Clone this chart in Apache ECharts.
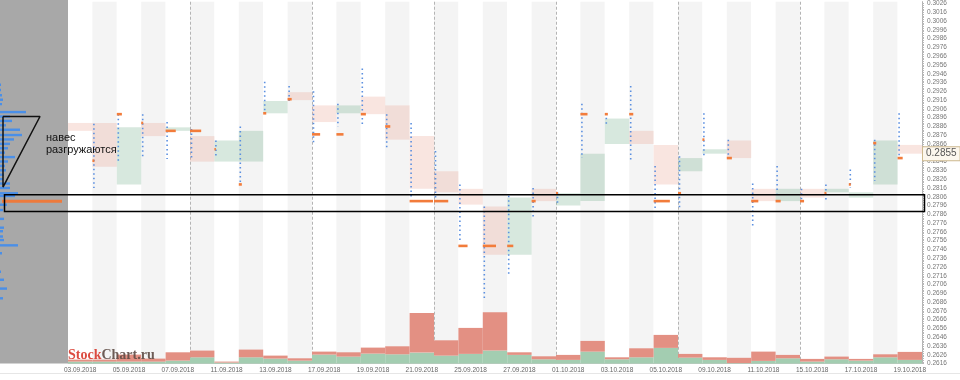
<!DOCTYPE html>
<html><head><meta charset="utf-8">
<script src="https://cdn.jsdelivr.net/npm/echarts@6/dist/echarts.min.js"></script>
<style>html,body{margin:0;padding:0;background:#fff}#c{width:960px;height:380px}</style>
</head><body><div id="c"></div>
<script>
// ---- data ----
const days = ['03.09.2018','04.09.2018','05.09.2018','06.09.2018','07.09.2018','10.09.2018','11.09.2018','12.09.2018','13.09.2018','14.09.2018','17.09.2018','18.09.2018','19.09.2018','20.09.2018','21.09.2018','24.09.2018','25.09.2018','26.09.2018','27.09.2018','28.09.2018','01.10.2018','02.10.2018','03.10.2018','04.10.2018','05.10.2018','08.10.2018','09.10.2018','10.10.2018','11.10.2018','12.10.2018','15.10.2018','16.10.2018','17.10.2018','18.10.2018','19.10.2018'];
const opens  = [0.2890,0.2890,0.2820,0.2890,0.2881,0.2875,0.2846,0.2846,0.2901,0.2925,0.2910,0.2901,0.2920,0.2910,0.2875,0.2835,0.2815,0.2795,0.2740,0.2815,0.2796,0.2801,0.2866,0.2881,0.2865,0.2835,0.2855,0.2870,0.2815,0.2801,0.2815,0.2811,0.2805,0.2820,0.2865];
const closes = [0.2881,0.2840,0.2885,0.2875,0.2885,0.2846,0.2870,0.2881,0.2915,0.2916,0.2891,0.2910,0.2900,0.2871,0.2815,0.2811,0.2797,0.2740,0.2805,0.2801,0.2810,0.2855,0.2895,0.2866,0.2820,0.2850,0.2860,0.2850,0.2801,0.2815,0.2805,0.2815,0.2811,0.2870,0.2855];
const highs  = [null,0.2889,0.2900,0.2900,0.2891,0.2883,0.2870,0.2886,0.2937,0.2932,0.2926,0.2912,0.2952,0.2900,0.2890,0.2858,0.2820,0.2795,0.2807,0.2816,0.2811,0.2912,0.2901,0.2932,0.2841,0.2852,0.2901,0.2871,0.2821,0.2841,0.2815,0.2820,0.2837,0.2871,0.2901];
const lows   = [null,0.2816,0.2847,0.2850,0.2849,0.2849,0.2850,0.2820,0.2901,0.2915,0.2866,0.2886,0.2886,0.2860,0.2806,0.2805,0.2756,0.2690,0.2718,0.2781,0.2798,0.2850,0.2886,0.2847,0.2789,0.2794,0.2850,0.2850,0.2770,0.2810,0.2801,0.2801,0.2816,0.2824,0.2850];
const pocs   = [null,0.2847,0.2900,0.2890,0.2881,0.2881,0.2860,0.2820,0.2901,0.2917,0.2877,0.2877,0.2900,0.2886,0.2801,0.2801,0.2750,0.2750,0.2750,0.2801,0.2810,0.2900,0.2900,0.2900,0.2801,0.2810,0.2871,0.2850,0.2801,0.2801,0.2801,0.2810,0.2820,0.2867,0.2850];
const pocVols = [0,2,5,2,10,11,1,3,3,4,8,7,5,5,23,14,9,13,6,4,2,7,3,4,16,3,2,5,7,5,4,2,2,3,5];
const volGreen = [2,2,2,2,3,6.3,1,6.3,5,3,9,7,10,9.3,11,8,9.7,13,8.7,4.3,3.7,12,4.3,6.3,15.7,6,3.7,0.5,2.7,5.3,2,4.3,3,6.3,3.7];
const volRed   = [2,2,7,3,8.3,6.7,1,7.7,3,2.3,3,4.3,6,8,39.7,15.3,26,38.3,2.6,3,5,10.7,2,9,13,3.7,2.6,5.3,9.3,3.4,2.7,2.7,1.7,3,8];
const profPrices = [0.2932,0.2926,0.2920,0.2915,0.2910,0.2901,0.2896,0.2891,0.2886,0.2881,0.2875,0.2870,0.2865,0.2860,0.2855,0.2850,0.2845,0.2840,0.2835,0.2830,0.2825,0.2820,0.2815,0.2809,0.2806,0.2796,0.2790,0.2780,0.2770,0.2766,0.2760,0.2756,0.2750,0.2741,0.2720,0.2711,0.2701,0.2690];
const profVols   = [1,1,2,3,2,26,10,12,6,20,22,14,10,8,5,15,8,5,6,4,3,10,10,18,15,7,3,4,4,3,3,4,18,2,1,4,7,3];
const profPocPrice = 0.2800, profPocVol = 62;
const priceMin = 0.2616, priceMax = 0.3028, priceTick = 0.0002, priceLabelStep = 0.001;
const lastPrice = 0.2855;
const zoneTop = 0.2811, zoneBottom = 0.2792;
const trianglePts = [[3,0.2896],[40,0.2896],[3,0.2816],[3,0.2896]];
const noteLines = ['навес','разгружаются'];

// ---- chart ----
const chart = echarts.init(document.getElementById('c'), null, {renderer:'canvas'});
const FONT = 'Liberation Sans';

const boxData = days.map((d,i)=>[i, opens[i], closes[i]]);
const dotData = []; const pocData = [];
days.forEach((d,i)=>{ if(highs[i]!=null){ dotData.push([i, highs[i], lows[i]]); pocData.push([i, pocs[i], pocVols[i]]); } });

function isLabelTick(v){
  const k = (v - priceMin) / priceLabelStep;
  return Math.abs(k - Math.round(k)) < 1e-4;
}

const option = {
  animation:false,
  backgroundColor:'#ffffff',
  grid:[
    {left:68, right:38, top:0, bottom:16.4},
    {left:68, right:38, top:298, bottom:16.4},
    {left:0, width:68, top:0, bottom:16.4, show:true, backgroundColor:'#a8a8a8', borderWidth:0}
  ],
  xAxis:[
    {gridIndex:0, type:'category', data:days, boundaryGap:true,
     axisLine:{lineStyle:{color:'#c8c8c8'}}, axisTick:{show:false},
     axisLabel:{interval:1, fontSize:6.5, color:'#666', margin:3, fontFamily:FONT},
     splitArea:{show:true, interval:0, areaStyle:{color:['#ffffff','#f4f4f4']}},
     splitLine:{show:true, interval:(i)=> i>0 && i%5===0, lineStyle:{color:'#b4b4b4', type:[3,2], width:1}}},
    {gridIndex:1, type:'category', data:days, show:false},
    {gridIndex:2, type:'value', min:0, max:68, show:false}
  ],
  yAxis:[
    {gridIndex:0, type:'value', position:'right', min:priceMin, max:priceMax, interval:priceTick,
     axisLine:{show:true, lineStyle:{color:'#b0b0b0'}},
     axisTick:{show:true, length:2, lineStyle:{color:'#b8b8b8'}},
     axisLabel:{fontSize:6.5, color:'#777', margin:5, fontFamily:FONT, showMaxLabel:false,
                formatter:v=> isLabelTick(v) ? v.toFixed(4) : ''},
     splitLine:{show:false}},
    {gridIndex:1, type:'value', min:0, max:65.6, show:false},
    {gridIndex:2, type:'value', min:priceMin, max:priceMax, show:false}
  ],
  series:[
    {type:'custom', name:'boxes', xAxisIndex:0, yAxisIndex:0, data:boxData, encode:{x:0, y:[1,2]}, silent:true, z:2,
     renderItem:(params, api)=>{
       const i = api.value(0), o = api.value(1), c = api.value(2);
       const p1 = api.coord([i,o]), p2 = api.coord([i,c]);
       const w = api.size([1,0])[0];
       const up = c >= o;
       return {type:'rect', shape:{x:p1[0]-w/2, y:Math.min(p1[1],p2[1]), width:w, height:Math.abs(p1[1]-p2[1])},
               style:{fill: up ? 'rgba(135,185,155,0.33)' : 'rgba(235,160,145,0.28)'}};
     }},
    {type:'bar', name:'volBuy', xAxisIndex:1, yAxisIndex:1, stack:'v', data:volGreen, barCategoryGap:0, barGap:0,
     itemStyle:{color:'#a3cdb1'}, silent:true, z:3},
    {type:'bar', name:'volSell', xAxisIndex:1, yAxisIndex:1, stack:'v', data:volRed, barCategoryGap:0, barGap:0,
     itemStyle:{color:'#e39083'}, silent:true, z:3},
    {type:'custom', name:'dots', xAxisIndex:0, yAxisIndex:0, data:dotData, encode:{x:0, y:[1,2]}, silent:true, z:4,
     renderItem:(params, api)=>{
       const i = api.value(0);
       const ph = api.coord([i, api.value(1)]), pl = api.coord([i, api.value(2)]);
       const w = api.size([1,0])[0];
       const x = ph[0] - w/2 + 1.5;
       return {type:'line', shape:{x1:x, y1:ph[1], x2:x, y2:pl[1]},
               style:{stroke:'#5b8fe0', lineWidth:1.6, lineDash:[1.5,3]}};
     }},
    {type:'custom', name:'poc', xAxisIndex:0, yAxisIndex:0, data:pocData, encode:{x:0, y:1}, silent:true, z:5,
     renderItem:(params, api)=>{
       const i = api.value(0);
       const p = api.coord([i, api.value(1)]);
       const w = api.size([1,0])[0];
       return {type:'rect', shape:{x:p[0]-w/2, y:p[1]-1.3, width:Math.max(1.5, api.value(2)/24*w), height:2.6},
               style:{fill:'#f27c3b'}};
     }},
    {type:'custom', name:'profile', xAxisIndex:2, yAxisIndex:2, data:profPrices.map((p,i)=>[profVols[i], p]), encode:{x:0, y:1}, silent:true, z:3,
     renderItem:(params, api)=>{
       const p0 = api.coord([0, api.value(1)]), p1 = api.coord([api.value(0), api.value(1)]);
       return {type:'rect', shape:{x:p0[0], y:p0[1]-1.2, width:p1[0]-p0[0], height:2.4}, style:{fill:'#4a8fe8'}};
     }},
    {type:'custom', name:'profilePoc', xAxisIndex:2, yAxisIndex:2, data:[[profPocVol, profPocPrice]], encode:{x:0, y:1}, silent:true, z:3,
     renderItem:(params, api)=>{
       const p0 = api.coord([0, api.value(1)]), p1 = api.coord([api.value(0), api.value(1)]);
       return {type:'rect', shape:{x:p0[0]+2, y:p0[1]-1.5, width:p1[0]-p0[0]-2, height:3}, style:{fill:'#ee7a3c'}};
     }},
    {type:'line', name:'triangle', xAxisIndex:2, yAxisIndex:2, data:trianglePts, symbol:'none', showSymbol:false,
     lineStyle:{color:'#111', width:1.5}, silent:true, z:7, clip:false}
  ]
};
chart.setOption(option);

const yT = chart.convertToPixel({yAxisIndex:0}, zoneTop);
const yB = chart.convertToPixel({yAxisIndex:0}, zoneBottom);
const yLast = chart.convertToPixel({yAxisIndex:0}, lastPrice);
chart.setOption({graphic:[
  {type:'rect', left:2, top:yT, shape:{x:0,y:0,width:920,height:yB-yT}, style:{fill:null, stroke:'#000', lineWidth:1.5}, z:100, silent:true},
  {type:'text', left:46, top:132, style:{text:noteLines[0], font:'11px "Liberation Sans"', fill:'#111'}, z:100},
  {type:'text', left:46, top:144, style:{text:noteLines[1], font:'11px "Liberation Sans"', fill:'#111'}, z:100},
  {type:'text', x:923, y:yLast, z:100, style:{text:lastPrice.toFixed(4), font:'10px "Liberation Sans"', fill:'#555',
     verticalAlign:'middle', align:'left', backgroundColor:'#fcf7ee', borderColor:'#cdb88e', borderWidth:1, padding:[2,3,1,3]}},
  {type:'text', left:68, top:348, z:100, style:{
     text:'{a|Stock}{b|Chart.ru}', rich:{
       a:{fontFamily:'Liberation Serif', fontWeight:'bold', fontSize:14, fill:'#d8372b', color:'#d8372b'},
       b:{fontFamily:'Liberation Serif', fontWeight:'bold', fontSize:14, fill:'#5e4b45', color:'#5e4b45'}}, opacity:0.9}},
  {type:'line', shape:{x1:0, y1:373.5, x2:960, y2:373.5}, style:{stroke:'#e6e6e6', lineWidth:1}, z:100}
]});
</script>
</body></html>
